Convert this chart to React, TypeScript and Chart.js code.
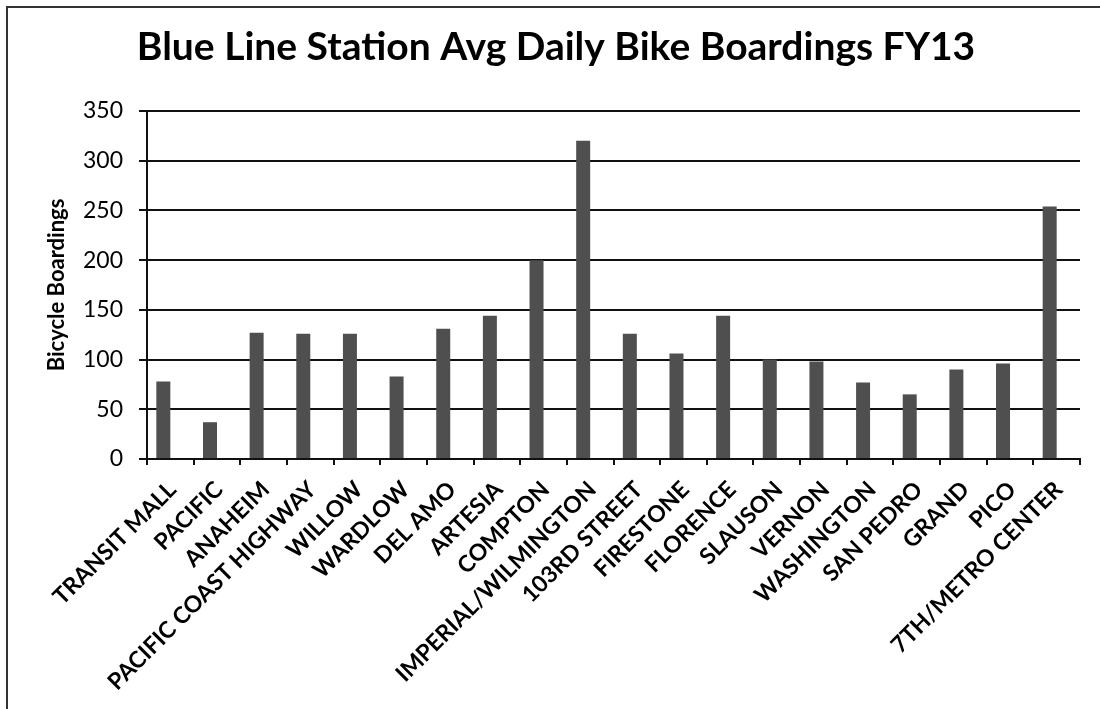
import React, { useEffect, useRef } from "react";
import { Chart, registerables } from "chart.js";

Chart.register(...registerables);

const TITLE = "Blue Line Station Avg Daily Bike Boardings FY13";
const Y_TITLE = "Bicycle Boardings";

const stations = [
  "TRANSIT MALL",
  "PACIFIC",
  "ANAHEIM",
  "PACIFIC COAST HIGHWAY",
  "WILLOW",
  "WARDLOW",
  "DEL AMO",
  "ARTESIA",
  "COMPTON",
  "IMPERIAL/WILMINGTON",
  "103RD STREET",
  "FIRESTONE",
  "FLORENCE",
  "SLAUSON",
  "VERNON",
  "WASHINGTON",
  "SAN PEDRO",
  "GRAND",
  "PICO",
  "7TH/METRO CENTER",
];

const boardings = [78, 37, 127, 126, 126, 83, 131, 144, 200, 320, 126, 106, 144, 100, 98, 77, 65, 90, 96, 254];

// empty second series slot (the original chart reserves space for it)
const emptySeries = stations.map(() => null);

const yMin = 0;
const yMax = 350;
const yStep = 50;

export default function App() {
  const ref = useRef<HTMLCanvasElement | null>(null);

  useEffect(() => {
    if (!ref.current) return;
    const chart = new Chart(ref.current, {
      type: "bar",
      data: {
        labels: stations,
        datasets: [
          {
            label: "Boardings",
            data: boardings,
            backgroundColor: "#4f4f4f",
            borderWidth: 0,
            categoryPercentage: 0.6,
            barPercentage: 1.0,
          },
          {
            label: "",
            data: emptySeries,
            backgroundColor: "#4f4f4f",
            borderWidth: 0,
            categoryPercentage: 0.6,
            barPercentage: 1.0,
          },
        ],
      },
      options: {
        responsive: false,
        animation: false,
        layout: { padding: { left: 32, right: 20, top: 0, bottom: 0 } },
        plugins: {
          legend: { display: false },
          tooltip: { enabled: false },
          title: {
            display: true,
            text: TITLE,
            color: "#000",
            font: { family: "Lato", size: 39, weight: "bold" },
            padding: { top: 23.6, bottom: 40.6 },
          },
        },
        scales: {
          x: {
            afterFit: (s: any) => {
              s.height = 250;
            },
            grid: {
              offset: true,
              drawOnChartArea: false,
              drawTicks: true,
              tickLength: 6,
              color: "#111",
              lineWidth: 2,
            },
            border: { display: true, color: "#111", width: 2 },
            ticks: {
              autoSkip: false,
              maxRotation: 45,
              minRotation: 45,
              color: "#000",
              font: { family: "Lato", size: 23, weight: "bold" },
              padding: 11,
              labelOffset: 2,
            },
          },
          y: {
            min: yMin,
            max: yMax,
            afterFit: (s: any) => {
              s.width = 115;
            },
            grid: {
              color: "#111",
              lineWidth: 2,
              drawTicks: true,
              tickLength: 8,
            },
            border: { display: true, color: "#111", width: 2 },
            ticks: {
              stepSize: yStep,
              color: "#000",
              font: { family: "Lato", size: 23 },
              padding: 16,
            },
            title: {
              display: true,
              text: Y_TITLE,
              color: "#000",
              font: { family: "Lato", size: 22, weight: "bold" },
              padding: { top: 12, bottom: 0 },
            },
          },
        },
      },
    });
    return () => chart.destroy();
  }, []);

  return (
    <div style={{ position: "fixed", left: 0, top: 0, width: 1100, height: 709, background: "#fff" }}>
      <canvas ref={ref} width={1100} height={709} style={{ position: "absolute", left: 0, top: 0 }} />
      <div
        style={{
          position: "absolute",
          left: 6,
          top: 6,
          width: 1094,
          height: 703,
          borderLeft: "2px solid #333",
          borderTop: "2px solid #333",
          boxSizing: "border-box",
          pointerEvents: "none",
        }}
      />
    </div>
  );
}
